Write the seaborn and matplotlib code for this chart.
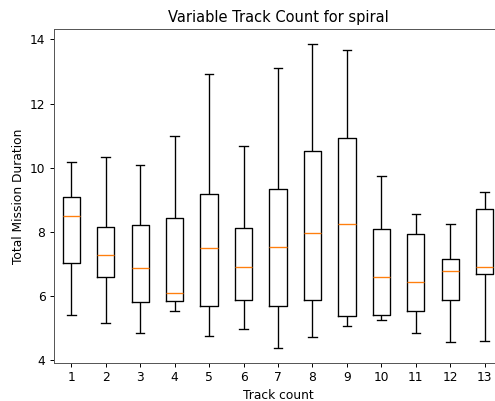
import matplotlib
matplotlib.use("Agg")
import matplotlib.pyplot as plt
import seaborn as sns
import pandas as pd

track_counts = [str(i) for i in range(1, 14)]
whisker_low = [5.43, 5.18, 4.87, 5.54, 4.76, 4.99, 4.40, 4.74, 5.06, 5.27, 4.86, 4.59, 4.61]
q1 = [7.04, 6.61, 5.82, 5.86, 5.70, 5.87, 5.69, 5.89, 5.39, 5.41, 5.54, 5.87, 6.70]
median = [8.51, 7.28, 6.89, 6.10, 7.50, 6.91, 7.52, 7.98, 8.24, 6.59, 6.44, 6.80, 6.91]
q3 = [9.10, 8.17, 8.23, 8.45, 9.19, 8.11, 9.34, 10.52, 10.92, 8.10, 7.95, 7.17, 8.72]
whisker_high = [10.18, 10.34, 10.08, 11.00, 12.91, 10.67, 13.10, 13.85, 13.67, 9.74, 8.55, 8.24, 9.25]

rows = []
for i, tc in enumerate(track_counts):
    for v in (whisker_low[i], q1[i], median[i], q3[i], whisker_high[i]):
        rows.append({"Track count": tc, "Total Mission Duration": v})
df = pd.DataFrame(rows)

DPI = 88
fig = plt.figure(figsize=(495 / DPI, 401 / DPI), dpi=DPI)
ax = fig.add_axes([54 / 495, 1 - 362.7 / 401, (502 - 54) / 495, (362.7 - 29) / 401])

sns.boxplot(
    data=df, x="Track count", y="Total Mission Duration", order=track_counts,
    ax=ax, fill=False, color="black", width=0.5, linewidth=1.1,
    whis=(0, 100), showfliers=False,
    medianprops={"color": "#ff7f0e", "linewidth": 1.1},
    whiskerprops={"color": "black"}, capprops={"color": "black"},
    boxprops={"color": "black"},
)

ax.set_xlim(-0.5, 12.5)
ax.set_ylim(3.93, 14.32)
ax.set_yticks([4, 6, 8, 10, 12, 14])
ax.set_title("Variable Track Count for spiral", fontsize=12)
ax.set_xlabel("Track count", fontsize=10)
ax.set_ylabel("Total Mission Duration", fontsize=10)
ax.tick_params(labelsize=10)
for s in ax.spines.values():
    s.set_color("#555555")

fig.savefig("out.png", dpi=DPI)
